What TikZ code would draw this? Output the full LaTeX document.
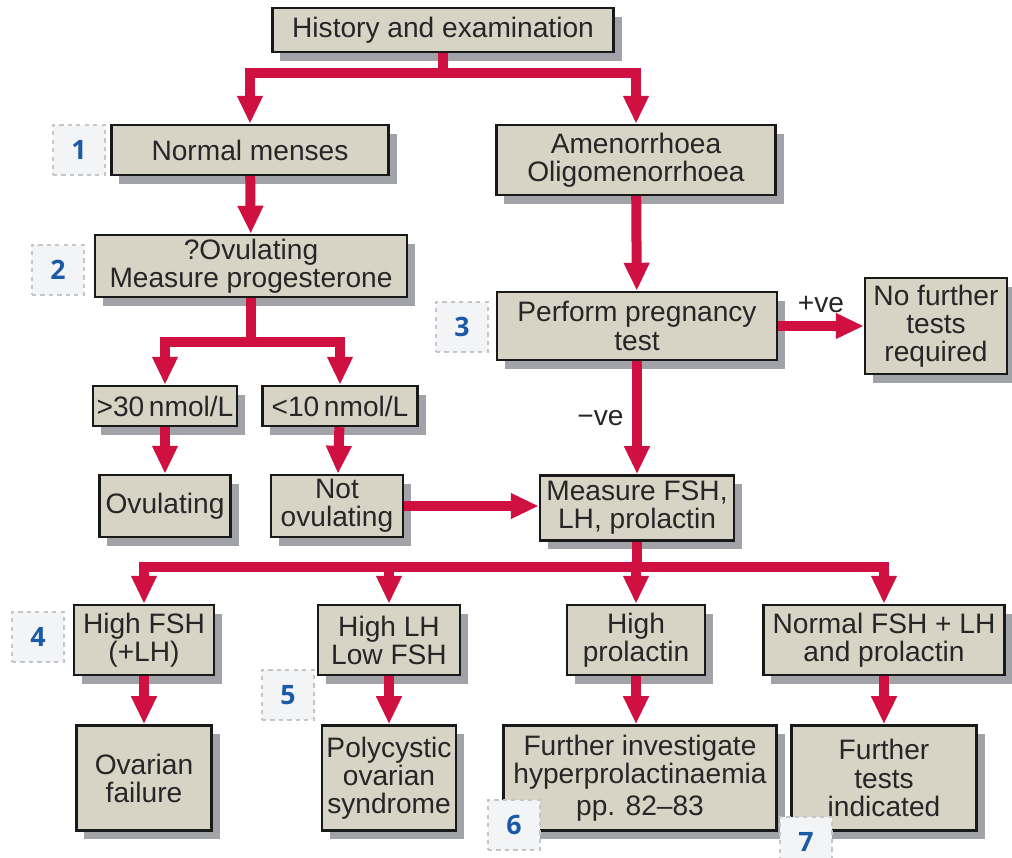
\documentclass[tikz,border=0pt]{standalone}
\usepackage{fontspec}
\setmainfont{Liberation Sans}
\newfontfamily\badgefont{Open Sans}
\usetikzlibrary{arrows.meta,positioning,calc,shadows}
\definecolor{boxfill}{HTML}{D7D3C5}
\definecolor{shade}{HTML}{A2A3A8}
\definecolor{flow}{HTML}{D01040}
\definecolor{numblue}{HTML}{1B5AA6}
\definecolor{tagfill}{HTML}{F3F4F6}
\definecolor{tagline}{HTML}{C4C6CA}

\begin{document}
\begin{tikzpicture}[
 x=0.025cm,y=-0.025cm,
 every node/.style={font=\fontsize{20}{20}\selectfont,align=center,inner sep=0pt,text=black!85},
 bx/.style={draw=black!90,line width=1.7pt,fill=boxfill,
   drop shadow={shadow xshift=0.2cm,shadow yshift=-0.22cm,fill=shade,opacity=1}},
 tag/.style={draw=tagline,dashed,line width=0.8pt,fill=tagfill,minimum width=1.3cm,
   minimum height=1.25cm,text=numblue,font=\badgefont\bfseries\fontsize{19}{19}\selectfont},
 ln/.style={flow,line width=0.25cm},
 arr/.style={ln,-{Triangle[width=0.6cm,length=0.7cm]}}
]
 \useasboundingbox (0,0) rectangle (1012,857);
 \node[bx,minimum width=8.53cm,minimum height=1.1cm] (hist) at (443,30) {History and examination};
 \node[bx,minimum width=6.93cm,minimum height=1.25cm] (menses) at (250,150) {Normal menses};
 \node[bx,minimum width=6.98cm,minimum height=1.75cm] (amen) at (636,160) {Amenorrhoea\\Oligomenorrhoea};
 \node[bx,minimum width=7.8cm,minimum height=1.55cm] (ovq) at (251,266) {?Ovulating\\Measure progesterone};
 \node[bx,minimum width=7cm,minimum height=1.7cm] (preg) at (637,326) {Perform pregnancy\\test};
 \node[bx,minimum width=3.55cm,minimum height=2.4cm] (nofur) at (936,326) {No further\\tests\\required};
 \node[bx,minimum width=3.6cm,minimum height=1cm] (hi30) at (165,406) {>30\,nmol/L};
 \node[bx,minimum width=3.88cm,minimum height=1cm] (lo10) at (340,406) {<10\,nmol/L};
 \node[bx,minimum width=3.28cm,minimum height=1.55cm] (ovul) at (165,506) {Ovulating};
 \node[bx,minimum width=3.3cm,minimum height=1.55cm] (notov) at (337,506) {Not\\ovulating};
 \node[bx,minimum width=4.85cm,minimum height=1.63cm] (meas) at (637,508) {Measure FSH,\\LH, prolactin};
 \node[bx,minimum width=3.5cm,minimum height=1.75cm] (hfsh) at (144,640) {High FSH\\(+LH)};
 \node[bx,minimum width=3.55cm,minimum height=1.75cm] (hlh) at (389,640) {High LH\\Low FSH};
 \node[bx,minimum width=3.45cm,minimum height=1.75cm] (hprl) at (636,640) {High\\prolactin};
 \node[bx,minimum width=6.03cm,minimum height=1.75cm] (norm) at (884,640) {Normal FSH + LH\\and prolactin};
 \node[bx,minimum width=3.38cm,minimum height=2.63cm] (ovf) at (144,778) {Ovarian\\failure};
 \node[bx,minimum width=3.35cm,minimum height=2.63cm] (pcos) at (389,778) {Polycystic\\ovarian\\syndrome};
 \node[bx,minimum width=6.83cm,minimum height=2.63cm] (finv) at (640,778) {Further investigate\\hyperprolactinaemia\\[0.1cm]pp. 82–83};
 \node[bx,minimum width=4.63cm,minimum height=2.63cm] (ftest) at (884,778) {Further\\tests\\indicated};
 \node[tag] (t1) at (79,150) {1};
 \node[tag] (t2) at (58,270) {2};
 \node[tag] (t3) at (462,327) {3};
 \node[tag] (t4) at (38,637) {4};
 \node[tag] (t5) at (288,695) {5};
 \node[tag] (t6) at (514,825) {6};
 \node[tag] (t7) at (806,842) {7};
 \coordinate (s1) at (443,73);
 \coordinate (s2) at (251,342);
 \coordinate (s3) at (637,567);
 \draw[ln] (hist) -- (s1);
 \draw[arr] (s1) -| (menses);
 \draw[arr] (s1) -| (amen);
 \draw[arr] (menses) -- (ovq);
 \draw[ln] (ovq) -- (s2);
 \draw[arr] (s2) -| (hi30);
 \draw[arr] (s2) -| (lo10);
 \draw[arr] (hi30) -- (ovul);
 \draw[arr] (lo10) -- (notov);
 \draw[arr] (notov.east) -- (notov.east -| meas.west);
 \draw[arr] (amen) -- (preg);
 \draw[arr] (preg) -- node[above=6pt,text=black!85] {+ve} (nofur);
 \draw[arr] (preg) -- node[left=6pt,text=black!85] {−ve} (meas);
 \draw[ln] (meas) -- (s3);
 \draw[arr] (s3) -| (hfsh);
 \draw[arr] (s3) -| (hlh);
 \draw[arr] (s3) -| (hprl);
 \draw[arr] (s3) -| (norm);
 \draw[arr] (hfsh) -- (ovf);
 \draw[arr] (hlh) -- (pcos);
 \draw[arr] (hprl.south) -- (hprl.south |- finv.north);
 \draw[arr] (norm) -- (ftest);
\end{tikzpicture}
\end{document}
